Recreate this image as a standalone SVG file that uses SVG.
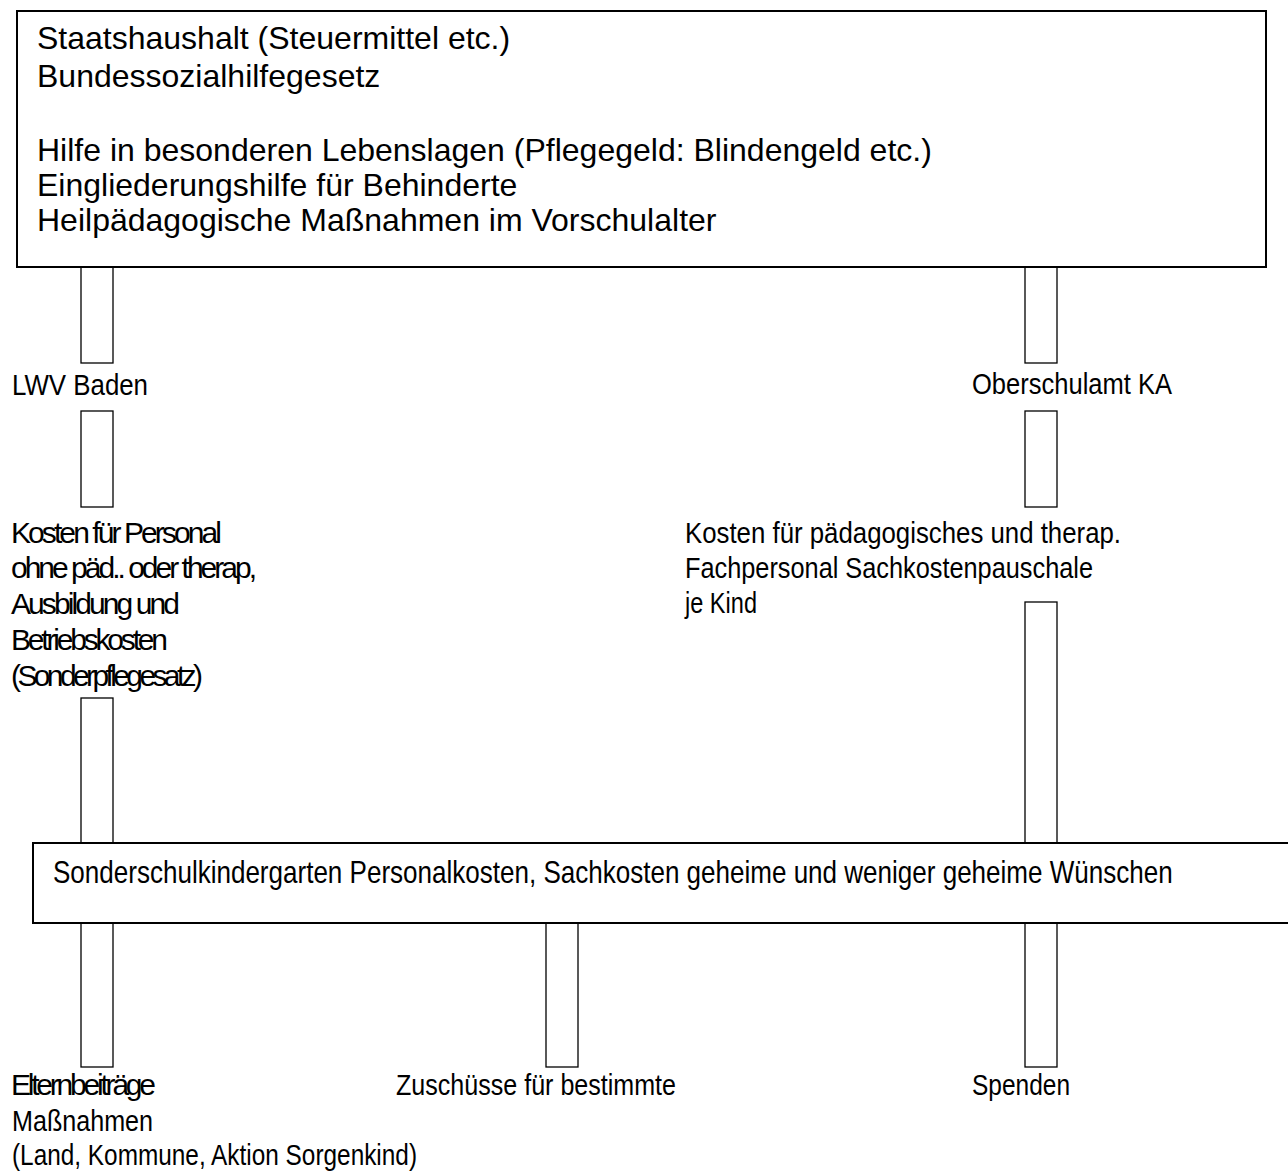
<svg xmlns="http://www.w3.org/2000/svg" width="1288" height="1173" viewBox="0 0 1288 1173">
<style>
.box{fill:#fff;stroke:#000;stroke-width:2}
.col{fill:#fff;stroke:#000;stroke-width:1.3}
.t{font-family:"Liberation Sans",Arial,sans-serif;fill:#000}
.big{font-size:32px}
.nar{font-size:29px}
.tight{font-size:30px}
</style>
<rect width="1288" height="1173" fill="#fff"/>
<g id="connectors">
<rect class="col" x="81" y="267" width="32" height="96"/>
<rect class="col" x="81" y="411" width="32" height="96"/>
<rect class="col" x="81" y="698" width="32" height="145"/>
<rect class="col" x="81" y="923" width="32" height="144"/>
<rect class="col" x="1025" y="267" width="32" height="96"/>
<rect class="col" x="1025" y="411" width="32" height="96"/>
<rect class="col" x="1025" y="602" width="32" height="241"/>
<rect class="col" x="1025" y="923" width="32" height="144"/>
<rect class="col" x="546" y="923" width="32" height="144"/>
</g>
<g id="staatshaushalt">
<rect class="box" x="17" y="11" width="1249" height="256"/>
<text class="t big" x="37" y="49">Staatshaushalt (Steuermittel etc.)</text>
<text class="t big" x="37" y="87">Bundessozialhilfegesetz</text>
<text class="t big" x="37" y="161">Hilfe in besonderen Lebenslagen (Pflegegeld: Blindengeld etc.)</text>
<text class="t big" x="37" y="196">Eingliederungshilfe für Behinderte</text>
<text class="t big" x="37" y="231">Heilpädagogische Maßnahmen im Vorschulalter</text>
</g>
<g id="lwv">
<text class="t nar" x="12" y="395" textLength="136" lengthAdjust="spacingAndGlyphs">LWV Baden</text>
</g>
<g id="oberschulamt">
<text class="t nar" x="972" y="394" textLength="200" lengthAdjust="spacingAndGlyphs">Oberschulamt KA</text>
</g>
<g id="kosten-personal">
<text class="t tight" x="11" y="543" textLength="211" lengthAdjust="spacing">Kosten für Personal</text>
<text class="t tight" x="11" y="578" textLength="246" lengthAdjust="spacing">ohne päd.. oder therap,</text>
<text class="t tight" x="11" y="614" textLength="169" lengthAdjust="spacing">Ausbildung und</text>
<text class="t tight" x="11" y="650" textLength="157" lengthAdjust="spacing">Betriebskosten</text>
<text class="t tight" x="11" y="686" textLength="192" lengthAdjust="spacing">(Sonderpflegesatz)</text>
</g>
<g id="kosten-paed">
<text class="t nar" x="685" y="543" textLength="436" lengthAdjust="spacingAndGlyphs">Kosten für pädagogisches und therap.</text>
<text class="t nar" x="685" y="578" textLength="408" lengthAdjust="spacingAndGlyphs">Fachpersonal Sachkostenpauschale</text>
<text class="t nar" x="685" y="613" textLength="72" lengthAdjust="spacingAndGlyphs">je Kind</text>
</g>
<g id="sonderschulkindergarten">
<rect class="box" x="33" y="843" width="1270" height="80"/>
<text class="t" style="font-size:32px" transform="translate(53,883) scale(0.8136,1)" x="0" y="0">Sonderschulkindergarten Personalkosten, Sachkosten geheime und weniger geheime Wünschen</text>
</g>
<g id="elternbeitraege">
<text class="t tight" x="11" y="1095" textLength="145" lengthAdjust="spacing">Elternbeiträge</text>
<text class="t nar" x="12" y="1131" textLength="141" lengthAdjust="spacingAndGlyphs">Maßnahmen</text>
<text class="t nar" x="12" y="1165" textLength="405" lengthAdjust="spacingAndGlyphs">(Land, Kommune, Aktion Sorgenkind)</text>
</g>
<g id="zuschuesse">
<text class="t nar" x="396" y="1095" textLength="280" lengthAdjust="spacingAndGlyphs">Zuschüsse für bestimmte</text>
</g>
<g id="spenden">
<text class="t nar" x="972" y="1095" textLength="98" lengthAdjust="spacingAndGlyphs">Spenden</text>
</g>
</svg>
